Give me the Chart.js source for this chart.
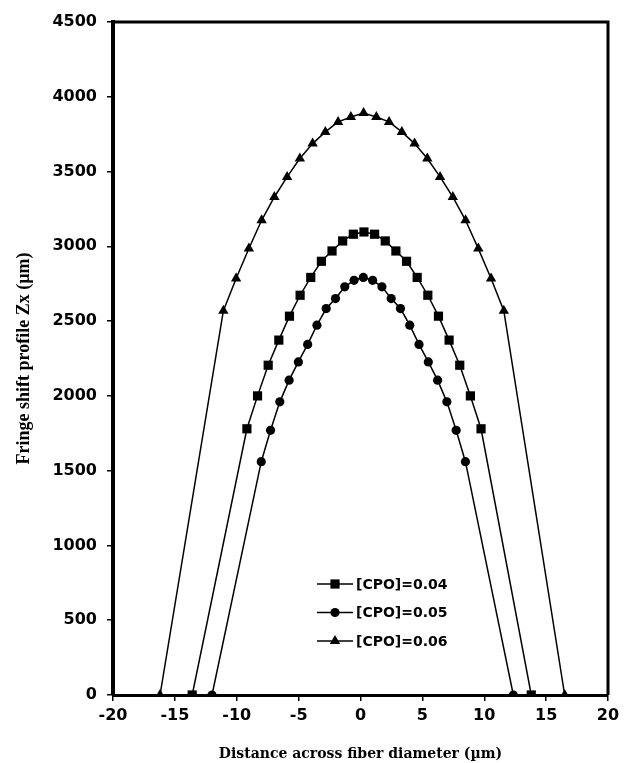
<!DOCTYPE html>
<html>
<head>
<meta charset="utf-8">
<script src="https://cdn.jsdelivr.net/npm/chart.js@4.4.0/dist/chart.umd.min.js"></script>
<style>
  html, body { margin: 0; padding: 0; background: #fff; }
</style>
</head>
<body>
<canvas id="chart" width="625" height="763"></canvas>
<script>
// Data: distance across fiber (um) vs fringe shift Zx (um)
const seriesLabels = ['[CPO]=0.04', '[CPO]=0.05', '[CPO]=0.06'];
const seriesMarkers = ['rect', 'circle', 'triangle'];

const xCpo04 = [-13.6, -9.18, -8.32, -7.46, -6.6, -5.74, -4.88, -4.02, -3.16, -2.3, -1.44, -0.58, 0.28,
  1.14, 2.0, 2.86, 3.72, 4.58, 5.44, 6.3, 7.16, 8.02, 8.88, 9.74, 13.8];
const yCpo04 = [0, 1780, 2000, 2205, 2373, 2533, 2673, 2792, 2900, 2969, 3036, 3081, 3096,
  3081, 3036, 2969, 2900, 2792, 2673, 2533, 2373, 2205, 2000, 1780, 0];

const xCpo05 = [-12.0, -8.02, -7.27, -6.52, -5.77, -5.02, -4.27, -3.52, -2.77, -2.02, -1.27, -0.52, 0.23,
  0.98, 1.73, 2.48, 3.23, 3.98, 4.73, 5.48, 6.23, 6.98, 7.73, 8.48, 12.35];
const yCpo05 = [0, 1560, 1770, 1960, 2105, 2227, 2344, 2473, 2584, 2651, 2729, 2773, 2792,
  2773, 2729, 2651, 2584, 2473, 2344, 2227, 2105, 1960, 1770, 1560, 0];

const xCpo06 = [-16.2, -11.08, -10.05, -9.02, -7.99, -6.96, -5.93, -4.9, -3.87, -2.84, -1.81, -0.78, 0.25,
  1.28, 2.31, 3.34, 4.37, 5.4, 6.43, 7.46, 8.49, 9.52, 10.55, 11.58, 16.5];
const yCpo06 = [0, 2570, 2785, 2985, 3174, 3330, 3464, 3587, 3687, 3765, 3832, 3865, 3892,
  3865, 3832, 3765, 3687, 3587, 3464, 3330, 3174, 2985, 2785, 2570, 0];

const xSeries = [xCpo04, xCpo05, xCpo06];
const ySeries = [yCpo04, yCpo05, yCpo06];
const markerRadius = [6.5, 4.6, 6];

const tickFont = { family: '"DejaVu Sans", sans-serif', size: 16, weight: 'bold' };
const titleFont = { family: '"DejaVu Serif", serif', size: 14, weight: 'bold' };

// Draws the top and right edges of the plot box.
const frameBox = {
  id: 'frameBox',
  afterDraw: (chart) => {
    const { ctx, chartArea: { left, top, right, bottom } } = chart;
    ctx.save();
    ctx.strokeStyle = '#000';
    ctx.lineWidth = 3;
    ctx.beginPath();
    ctx.moveTo(left, top);
    ctx.lineTo(right, top);
    ctx.lineTo(right, bottom);
    ctx.stroke();
    ctx.restore();
  }
};

const drawMarker = (ctx, style, r, x, y) => {
  ctx.beginPath();
  if (style === 'rect') {
    const s = r * Math.SQRT1_2;
    ctx.rect(x - s, y - s, 2 * s, 2 * s);
  } else if (style === 'circle') {
    ctx.arc(x, y, r, 0, Math.PI * 2);
  } else {
    ctx.moveTo(x, y - r);
    ctx.lineTo(x + r * 0.866, y + r * 0.5);
    ctx.lineTo(x - r * 0.866, y + r * 0.5);
    ctx.closePath();
  }
  ctx.fill();
};

// Legend drawn inside the plot area, line sample with marker in the middle.
const insideLegend = {
  id: 'insideLegend',
  afterDraw: (chart) => {
    const { ctx, chartArea } = chart;
    const x0 = chartArea.left + 204;
    const y0 = chartArea.top + 562;
    ctx.save();
    chart.data.datasets.forEach((ds, i) => {
      const y = y0 + i * 28.5;
      ctx.strokeStyle = '#000';
      ctx.fillStyle = '#000';
      ctx.lineWidth = 1.5;
      ctx.beginPath();
      ctx.moveTo(x0, y);
      ctx.lineTo(x0 + 36, y);
      ctx.stroke();
      drawMarker(ctx, ds.pointStyle, ds.pointRadius, x0 + 18, y);
      ctx.font = 'bold 14px "DejaVu Sans", sans-serif';
      ctx.textBaseline = 'middle';
      ctx.textAlign = 'left';
      ctx.fillText(ds.label, x0 + 39, y + 1);
    });
    ctx.restore();
  }
};

const datasets = seriesLabels.map((label, i) => ({
  label,
  data: xSeries[i].map((x, j) => ({ x, y: ySeries[i][j] })),
  showLine: true,
  tension: 0,
  borderColor: '#000',
  borderWidth: 1.5,
  backgroundColor: '#000',
  pointStyle: seriesMarkers[i],
  pointRadius: markerRadius[i],
  pointBorderWidth: 0,
  pointBackgroundColor: '#000',
  clip: { left: 10, right: 10, top: 10, bottom: 0 }
}));

new Chart(document.getElementById('chart').getContext('2d'), {
  type: 'scatter',
  data: { datasets },
  plugins: [frameBox, insideLegend],
  options: {
    responsive: false,
    animation: false,
    layout: { padding: { left: 0, right: 17, top: 22, bottom: 0 } },
    plugins: { legend: { display: false }, tooltip: { enabled: false } },
    scales: {
      x: {
        type: 'linear',
        min: -20,
        max: 20,
        afterFit: (scale) => { scale.height = 68; },
        ticks: { stepSize: 5, color: '#000', font: tickFont, padding: 5, maxRotation: 0, callback: (v) => String(v) },
        grid: { drawOnChartArea: false, color: '#000', lineWidth: 1.5, tickLength: 6 },
        border: { color: '#000', width: 3 },
        title: {
          display: true,
          text: 'Distance across fiber diameter (\u00b5m)',
          color: '#000',
          font: titleFont,
          padding: { top: 1, bottom: 0 }
        }
      },
      y: {
        min: 0,
        max: 4500,
        afterFit: (scale) => { scale.width = 113; },
        ticks: { stepSize: 500, color: '#000', font: tickFont, padding: 10, callback: (v) => String(v) },
        grid: { drawOnChartArea: false, color: '#000', lineWidth: 1.5, tickLength: 6 },
        border: { color: '#000', width: 4 },
        title: {
          display: true,
          text: 'Fringe shift profile Zx (\u00b5m)',
          color: '#000',
          font: { family: '"Liberation Serif", serif', size: 18, weight: 'bold' },
          padding: { top: 14, bottom: 0 }
        }
      }
    }
  }
});
</script>
</body>
</html>
